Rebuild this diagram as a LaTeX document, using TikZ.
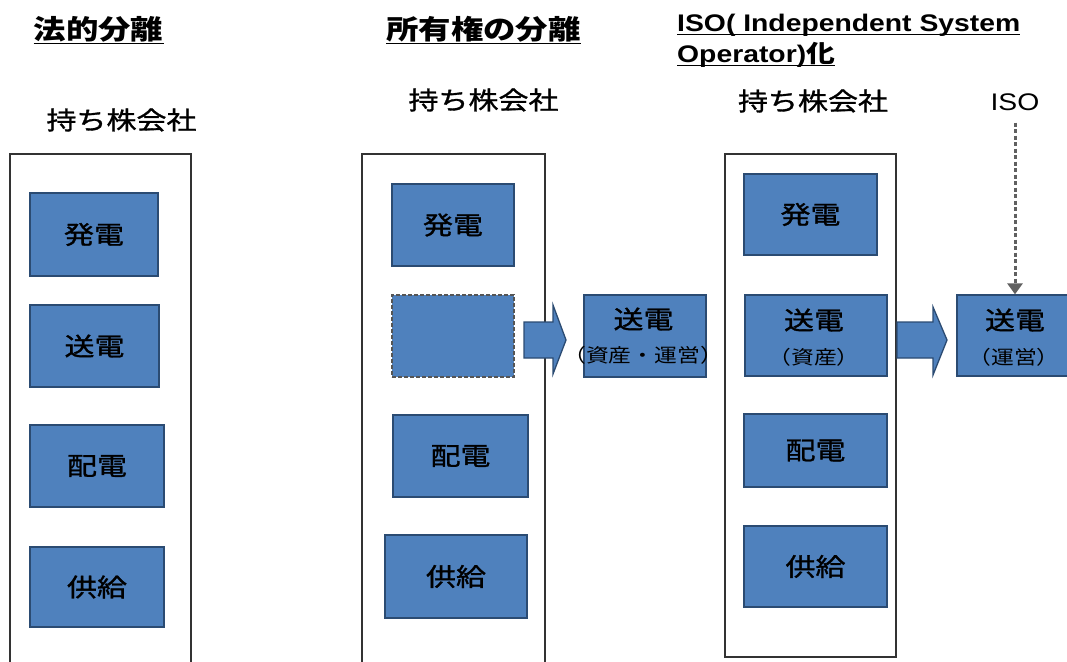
\documentclass[tikz,border=0pt]{standalone}
\usepackage{fontspec}
\usetikzlibrary{arrows.meta}
\setmainfont{Liberation Sans}[FakeStretch=1.18]
\newfontfamily\jpfont{Noto Sans CJK JP}[FakeStretch=1.2]
\newfontfamily\jplbl{Noto Sans CJK JP}[FakeStretch=1.2,FakeBold=1.2]
\definecolor{boxblue}{HTML}{4F81BD}
\definecolor{bdr}{HTML}{2B4B72}
\definecolor{frm}{HTML}{333333}
\definecolor{dashgrey}{HTML}{555555}
\definecolor{isogrey}{HTML}{606060}
\begin{document}
\begin{tikzpicture}[x=1pt,y=-1pt,
  blk/.style={draw=bdr, line width=1.3pt, fill=boxblue, inner sep=0pt,
    font=\jplbl\fontsize{25}{28}\selectfont},
  ghost/.style={draw=dashgrey, dash pattern=on 4pt off 2pt, line width=1.3pt, fill=boxblue, inner sep=0pt},
  frame/.style={draw=frm, line width=2.6pt},
  big/.style={inner sep=0pt, font=\jplbl\fontsize{25}{28}\selectfont},
  small/.style={inner sep=0pt, font=\jpfont\fontsize{19}{22}\selectfont},
  ttl/.style={inner sep=0pt, font=\jpfont\bfseries\fontsize{27}{30}\selectfont},
  isottl/.style={inner sep=0pt, anchor=base west, font=\bfseries\fontsize{24}{28}\selectfont},
  uline/.style={line width=1.5pt, black},
  barrow/.style={draw=bdr, line width=1.3pt, fill=boxblue, line join=miter},
  isoarrow/.style={isogrey, line width=3pt, dash pattern=on 4pt off 2.5pt, -{Triangle[length=11pt,width=15pt]}}
]
\useasboundingbox (0,0) rectangle (1067,661);
\clip (0,0) rectangle (1067,661);

% titles
\node[ttl] (t1) at (98.5,29) {法的分離};
\node[ttl] (t2) at (483.5,29) {所有権の分離};
\node[isottl] (iso1) at (677,32) {ISO( Independent System};
\node[isottl] (iso2) at (677,63) {Operator){\jpfont 化}};
\draw[uline] ([yshift=-1.5pt]t1.south west) -- ([yshift=-1.5pt]t1.south east);
\draw[uline] ([yshift=-1.5pt]t2.south west) -- ([yshift=-1.5pt]t2.south east);
\draw[uline] ([yshift=-2.5pt]iso1.base west) -- ([yshift=-2.5pt]iso1.base east);
\draw[uline] ([yshift=-2.5pt]iso2.base west) -- ([yshift=-2.5pt]iso2.base east);

% holding company labels
\node[big] (h1) at (121.5,120) {持ち株会社};
\node[big] (h2) at (483.5,100) {持ち株会社};
\node[big] (h3) at (813,101) {持ち株会社};
\node[inner sep=0pt, font=\fontsize{24}{28}\selectfont] (isol) at (1015,102) {ISO};

% frames
\draw[frame] (10,700) -- (10,154) -- (191,154) -- (191,700);
\draw[frame] (362,700) -- (362,154) -- (545,154) -- (545,700);
\draw[frame] (725,154) rectangle (896,657);

% column 1
\node[blk, minimum width=128pt, minimum height=83pt] (a1) at (94,234.5) {発電};
\node[blk, minimum width=129pt, minimum height=82pt] (a2) at (94.5,346) {送電};
\node[blk, minimum width=134pt, minimum height=82pt] (a3) at (97,466) {配電};
\node[blk, minimum width=134pt, minimum height=80pt] (a4) at (97,587) {供給};

% column 2
\node[blk, minimum width=122pt, minimum height=82pt] (b1) at (453,225) {発電};
\node[ghost, minimum width=122pt, minimum height=82pt] (b2) at (453,336) {};
\node[blk, minimum width=135pt, minimum height=82pt] (b3) at (460.5,456) {配電};
\node[blk, minimum width=142pt, minimum height=83pt] (b4) at (456,576.5) {供給};
\node[blk, minimum width=122pt, minimum height=82pt] (bx) at (645,336) {};
\node[big] (bxa) at (643.5,319) {送電};
\node[small] (bxb) at (643,355) {（資産・運営）};

% column 3
\node[blk, minimum width=133pt, minimum height=81pt] (c1) at (810.5,214.5) {発電};
\node[blk, minimum width=142pt, minimum height=81pt] (c2) at (816,335.5) {};
\node[big] (c2a) at (814,320) {送電};
\node[small] (c2b) at (814,357) {（資産）};
\node[blk, minimum width=143pt, minimum height=73pt] (c3) at (815.5,450.5) {配電};
\node[blk, minimum width=143pt, minimum height=81pt] (c4) at (815.5,566.5) {供給};
\node[blk, minimum width=116pt, minimum height=81pt] (cx) at (1015,335.5) {};
\node[big] (cxa) at (1015,320) {送電};
\node[small] (cxb) at (1014,357) {（運営）};

% block arrows
\draw[barrow] (524,322) -- (553,322) -- (553,305) -- (566,340) -- (553,374) -- (553,358) -- (524,358) -- cycle;
\draw[barrow] (897,322) -- (933,322) -- (933,307) -- (947,340) -- (933,375) -- (933,358) -- (897,358) -- cycle;

% ISO arrow
\draw[isoarrow] ([yshift=-12pt]isol.south) -- (cx.north);
\end{tikzpicture}
\end{document}
